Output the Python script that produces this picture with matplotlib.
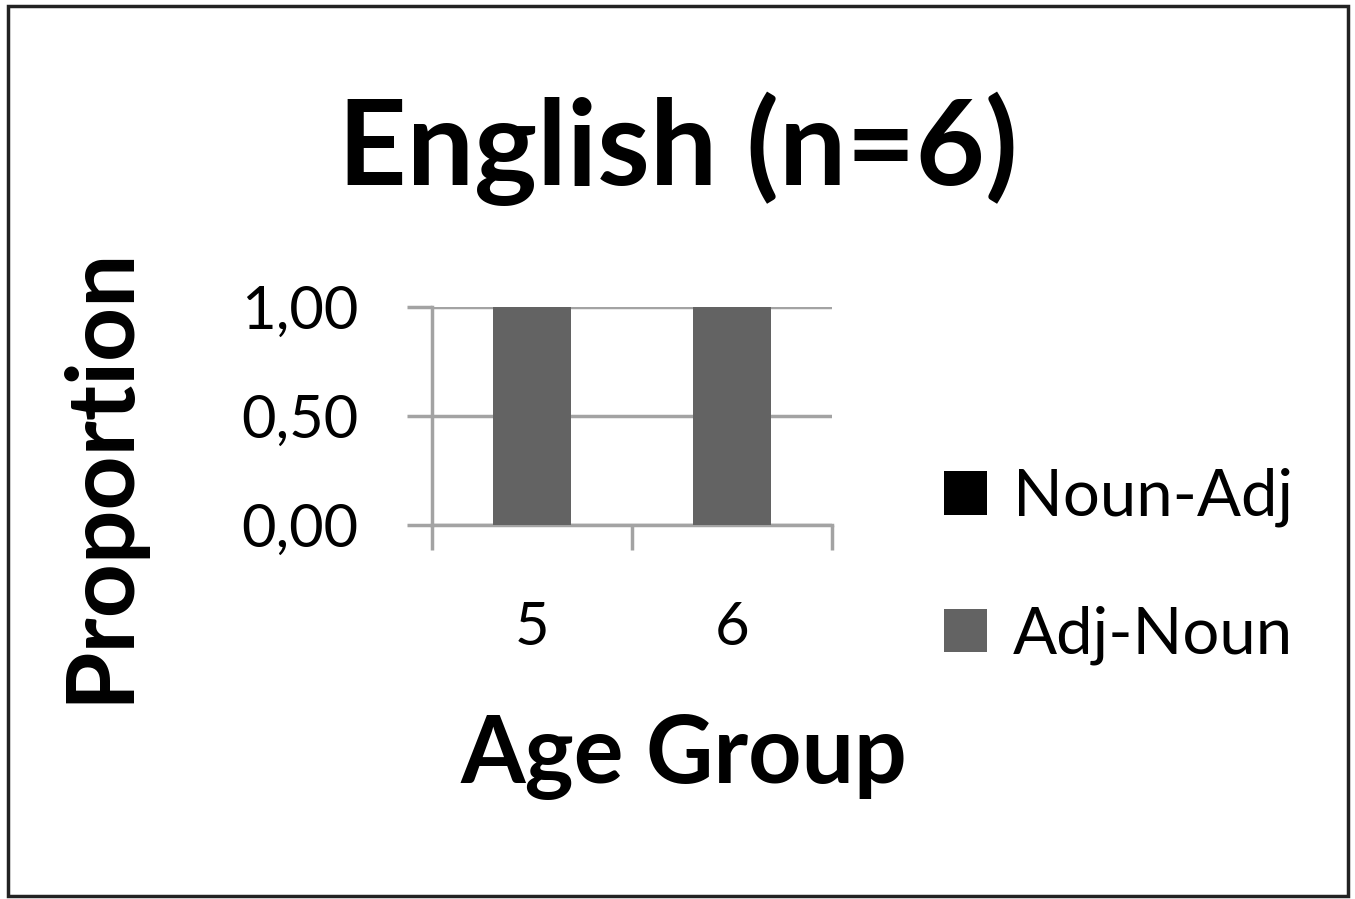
import numpy as np
import matplotlib
matplotlib.use("Agg")
import matplotlib.pyplot as plt
from matplotlib.patches import Rectangle

plt.rcParams['font.family'] = ['Lato', 'DejaVu Sans']

# data
age_groups = ["5", "6"]
adj_noun = [1.0, 1.0]
noun_adj = [0.0, 0.0]
yticks = [0.0, 0.5, 1.0]
ytick_labels = ["0,00", "0,50", "1,00"]

grid_col = "#a3a3a3"
gray = "#636363"

fig = plt.figure(figsize=(13.55, 8.99), dpi=100)
ax = fig.add_axes([0.3188, 0.416, 0.2952, 0.2425])

x = np.arange(len(age_groups))
b1 = ax.bar(x, adj_noun, width=0.39, color=gray, label="Adj-Noun", zorder=3)
b2 = ax.bar(x, noun_adj, width=0.39, bottom=adj_noun, color="#000000",
            label="Noun-Adj", zorder=3)

ax.set_xlim(-0.5, 1.5)
ax.set_ylim(0, 1)
ax.set_yticks(yticks)
ax.set_yticklabels(ytick_labels)
ax.set_xticks(x)
ax.set_xticklabels(age_groups)
# x tick marks at category boundaries
ax.set_xticks([-0.5, 0.5, 1.5], minor=True)
ax.tick_params(axis="x", which="major", length=0, pad=55, labelsize=43)
ax.tick_params(axis="x", which="minor", length=18, width=2.5, color=grid_col, direction="out")
ax.tick_params(axis="y", length=18, width=2.5, color=grid_col, direction="out",
               pad=35, labelsize=43)

ax.grid(axis="y", color=grid_col, linewidth=2.5, zorder=0)
for s in ["top", "right"]:
    ax.spines[s].set_visible(False)
for s in ["left", "bottom"]:
    ax.spines[s].set_color(grid_col)
    ax.spines[s].set_linewidth(2.5)

fig.text(0.5, 0.835, "English (n=6)", ha="center", va="center",
         fontsize=86, fontweight="bold")
fig.text(0.074, 0.472, "Proportion", ha="center", va="center",
         rotation=90, fontsize=68, fontweight="bold")
fig.text(0.505, 0.158, "Age Group", ha="center", va="center",
         fontsize=67, fontweight="bold")

ax.legend([b2, b1], ["Noun-Adj", "Adj-Noun"], loc="center left",
          bbox_to_anchor=(0.697, 0.37), bbox_transform=fig.transFigure,
          frameon=False, fontsize=47, handlelength=0.65, handleheight=0.65,
          handletextpad=0.4, labelspacing=1.2, borderpad=0, borderaxespad=0)

fig.patches.append(Rectangle((0.006, 0.003), 0.989, 0.99, transform=fig.transFigure,
                             fill=False, edgecolor="#222222", linewidth=2.5))

fig.savefig("out.png", dpi=100)
